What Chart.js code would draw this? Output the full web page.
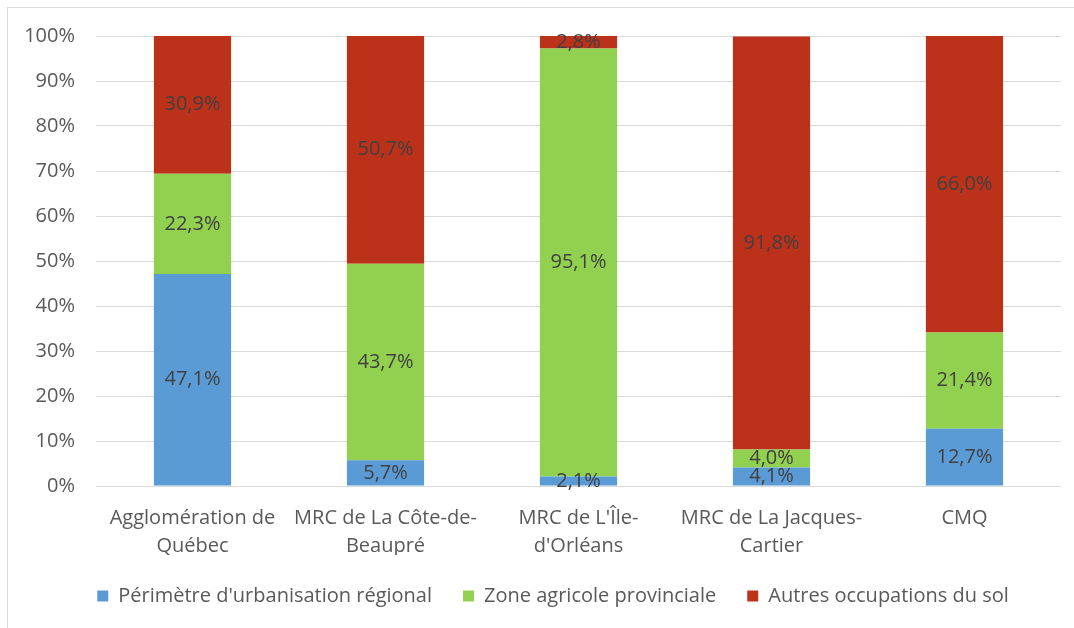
<!DOCTYPE html>
<html>
<head>
<meta charset="utf-8">
<script src="https://cdn.jsdelivr.net/npm/chart.js@4"></script>
<style>
  html, body { margin: 0; padding: 0; background: #fff; }
  #wrap { position: relative; width: 1074px; height: 628px; overflow: hidden; }
  #frame { position: absolute; left: 7px; top: 7px; width: 1200px; height: 800px; border: 1px solid #d9d9d9; }
  #c { position: absolute; left: 0; top: 0; }
</style>
</head>
<body>
<div id="wrap">
  <div id="frame"></div>
  <canvas id="c" width="1074" height="628"></canvas>
</div>
<script>
// categories (x axis)
var categories = [
  ['Agglomération de', 'Québec'],
  ['MRC de La Côte-de-', 'Beaupré'],
  ["MRC de L'Île-", "d'Orléans"],
  ['MRC de La Jacques-', 'Cartier'],
  'CMQ'
];

// series, in percent
var urbanisation = [47.1, 5.7, 2.1, 4.1, 12.7];
var agricole     = [22.3, 43.7, 95.1, 4.0, 21.4];
var autres       = [30.9, 50.7, 2.8, 91.8, 66.0];

var seriesNames = ["Périmètre d'urbanisation régional", 'Zone agricole provinciale', 'Autres occupations du sol'];

var FONT = '"Open Sans", Lato, sans-serif';
var FSIZE = 20;

// draw the value in the middle of each segment (like excel data labels)
var segmentLabels = {
  id: 'segmentLabels',
  afterDatasetsDraw: function(chart) {
    var ctx = chart.ctx;
    ctx.save();
    ctx.font = FSIZE + 'px ' + FONT;
    ctx.fillStyle = '#404040';
    ctx.textAlign = 'center';
    ctx.textBaseline = 'middle';
    chart.data.datasets.forEach(function(ds, i) {
      var meta = chart.getDatasetMeta(i);
      meta.data.forEach(function(bar, j) {
        var v = ds.data[j];
        var y = (bar.y + bar.base) / 2;
        if (y < chart.chartArea.top) y = chart.chartArea.top;
        ctx.fillText(v.toFixed(1).replace('.', ',') + '%', bar.x, y);
      });
    });
    ctx.restore();
  }
};

new Chart(document.getElementById('c'), {
  type: 'bar',
  data: {
    labels: categories,
    datasets: [
      { label: seriesNames[0], data: urbanisation, backgroundColor: '#5b9bd5' },
      { label: seriesNames[1], data: agricole, backgroundColor: '#92d050' },
      { label: seriesNames[2], data: autres, backgroundColor: '#bb311a' }
    ]
  },
  options: {
    responsive: false,
    animation: false,
    categoryPercentage: 1,
    barPercentage: 0.4,
    layout: { padding: { left: 45, right: 13, top: 36, bottom: 12 } },
    plugins: {
      legend: {
        position: 'bottom',
        labels: {
          font: { family: FONT, size: FSIZE },
          color: '#595959',
          boxWidth: 11,
          boxHeight: 11,
          padding: 31
        }
      },
      tooltip: { enabled: false }
    },
    scales: {
      x: {
        stacked: true,
        grid: { display: false },
        border: { display: false },
        ticks: { font: { family: FONT, size: FSIZE, lineHeight: '28px' }, color: '#595959', padding: 10, maxRotation: 0 },
        afterFit: function(scale) { scale.height = 69; }
      },
      y: {
        stacked: true,
        min: 0,
        max: 100,
        ticks: {
          stepSize: 10,
          font: { family: FONT, size: FSIZE },
          color: '#595959',
          padding: 21,
          callback: function(v) { return v + '%'; }
        },
        grid: { color: '#d9d9d9', drawTicks: false },
        border: { display: false },
        afterFit: function(scale) {
          scale.width = 51;
          // let the tick labels run past the left edge of the axis box
          scale._computeLabelArea = function() { return undefined; };
        }
      }
    }
  },
  plugins: [segmentLabels]
});
</script>
</body>
</html>
